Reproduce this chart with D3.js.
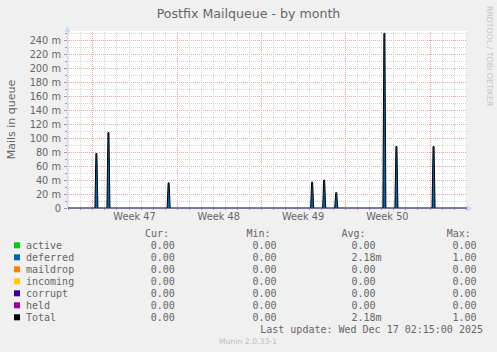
<!DOCTYPE html>
<html lang="en">
<head>
<meta charset="UTF-8">
<title>Postfix Mailqueue - by month</title>
<script src="https://d3js.org/d3.v7.min.js"></script>
<style>
  body { margin: 0; background: #f0f0f0; }
  svg { display: block; }
  text { font-family: "DejaVu Sans", sans-serif; fill: #666; }
  .mono { font-family: "DejaVu Sans Mono", monospace; font-size: 10px; }
</style>
</head>
<body>
<svg width="497" height="352"></svg>
<script>
// time window of the graph
const startTime = new Date("2025-11-14T21:24:00Z");
const endTime = new Date("2025-12-18T02:40:00Z");

// spikes of the deferred queue (mails, 2h averages)
const spikeTimes = ["2025-11-17T08:00Z", "2025-11-18T08:00Z", "2025-11-23T08:00Z",
  "2025-12-05T06:00Z", "2025-12-06T06:00Z", "2025-12-07T06:00Z",
  "2025-12-11T06:00Z", "2025-12-12T06:00Z", "2025-12-15T08:00Z"];
const deferredValues = [0.078, 0.108, 0.036, 0.037, 0.040, 0.022, 0.25, 0.088, 0.088];

// legend
const seriesNames = ["active", "deferred", "maildrop", "incoming", "corrupt", "held", "Total"];
const seriesColors = ["#00cc00", "#0066b3", "#ff8000", "#ffcc00", "#330099", "#990099", "#000000"];
const curValues = ["0.00", "0.00", "0.00", "0.00", "0.00", "0.00", "0.00"];
const minValues = ["0.00", "0.00", "0.00", "0.00", "0.00", "0.00", "0.00"];
const avgValues = ["0.00", "2.18m", "0.00", "0.00", "0.00", "0.00", "2.18m"];
const maxValues = ["0.00", "1.00", "0.00", "0.00", "0.00", "0.00", "1.00"];

const svg = d3.select("svg");
const X0 = 67, X1 = 467, Y0 = 208, Y1 = 33.3;

const x = d3.scaleUtc().domain([startTime, endTime]).range([X0, X1]);
const y = d3.scaleLinear().domain([0, 0.25]).range([Y0, Y1]);

svg.append("rect").attr("width", 497).attr("height", 352).attr("fill", "#f0f0f0");
svg.append("rect").attr("x", X0).attr("y", 31).attr("width", X1 - X0).attr("height", Y0 - 31).attr("fill", "#fff");

// title
svg.append("text").attr("x", 248.5).attr("y", 18).attr("text-anchor", "middle")
  .style("font-size", "12.6px").text("Postfix Mailqueue - by month");

// watermark
svg.append("text").attr("transform", "translate(486.5,6) rotate(90)")
  .style("font-size", "7.8px").style("fill", "#c4c4c4").text("RRDTOOL / TOBI OETIKER");

// y label
svg.append("text").attr("transform", "translate(15,119.5) rotate(-90)")
  .attr("text-anchor", "middle").style("font-size", "11px").text("Mails in queue");

const grid = svg.append("g").attr("shape-rendering", "crispEdges");

// horizontal grid
const minorY = d3.range(0, 26).map(d => d / 100);
grid.selectAll(".hmin").data(minorY.filter(d => d > 0)).join("line")
  .attr("x1", X0).attr("x2", X1)
  .attr("y1", d => Math.round(y(d)) + 0.5).attr("y2", d => Math.round(y(d)) + 0.5)
  .attr("stroke", "#d4d4d4").attr("stroke-dasharray", "1,1");
const majorY = d3.range(0, 13).map(d => d * 0.02);
grid.selectAll(".hmaj").data(majorY.filter(d => d > 0)).join("line")
  .attr("x1", X0).attr("x2", X1)
  .attr("y1", d => Math.round(y(d)) + 0.5).attr("y2", d => Math.round(y(d)) + 0.5)
  .attr("stroke", "#eba5a5").attr("stroke-dasharray", "1,1");

// vertical grid
const days = d3.utcDay.range(startTime, endTime);
grid.selectAll(".vmin").data(days).join("line")
  .attr("x1", d => Math.round(x(d)) + 0.5).attr("x2", d => Math.round(x(d)) + 0.5)
  .attr("y1", Y1 - 1).attr("y2", Y0)
  .attr("stroke", "#d4d4d4").attr("stroke-dasharray", "1,1");
const weeks = d3.utcMonday.range(startTime, endTime);
grid.selectAll(".vmaj").data(weeks).join("line")
  .attr("x1", d => Math.round(x(d)) + 0.5).attr("x2", d => Math.round(x(d)) + 0.5)
  .attr("y1", Y1 - 1).attr("y2", Y0)
  .attr("stroke", "#eba5a5").attr("stroke-dasharray", "1,1");

// small ticks on axes
grid.selectAll(".ytick").data(minorY).join("line")
  .attr("x1", d => (Math.round(d * 100) % 2 === 0) ? X0 - 3 : X0 - 2).attr("x2", X0)
  .attr("y1", d => Math.round(y(d)) + 0.5).attr("y2", d => Math.round(y(d)) + 0.5)
  .attr("stroke", "#9a9a9a");
grid.selectAll(".xtick").data(days).join("line")
  .attr("x1", d => Math.round(x(d)) + 0.5).attr("x2", d => Math.round(x(d)) + 0.5)
  .attr("y1", Y0).attr("y2", Y0 + 2)
  .attr("stroke", "#9a9a9a");

// y tick labels
svg.selectAll(".ylab").data(majorY).join("text")
  .attr("x", 61).attr("y", d => y(d) + 3.6).attr("text-anchor", "end")
  .style("font-size", "9.8px")
  .text(d => d === 0 ? "0" : d3.format(".0f")(d * 1000) + " m");

// week labels
const weekLabels = weeks.filter(d => d3.utcHour.offset(d, 84) < endTime);
svg.selectAll(".wlab").data(weekLabels).join("text")
  .attr("x", d => x(d3.utcHour.offset(d, 84))).attr("y", 220)
  .attr("text-anchor", "middle").style("font-size", "9.8px")
  .text(d => "Week " + d3.utcFormat("%V")(d));

// deferred series with Total line
const pts = [{ t: startTime, v: 0 }];
spikeTimes.forEach((s, i) => {
  const t = new Date(s);
  pts.push({ t: d3.utcHour.offset(t, -3), v: 0 });
  pts.push({ t: d3.utcHour.offset(t, -1), v: deferredValues[i] });
  pts.push({ t: d3.utcHour.offset(t, 1), v: deferredValues[i] });
  pts.push({ t: d3.utcHour.offset(t, 3), v: 0 });
});
pts.push({ t: endTime, v: 0 });

svg.append("path").datum(pts)
  .attr("fill", "#0066b3")
  .attr("d", d3.area().x(d => x(d.t)).y0(Y0).y1(d => y(d.v)));
svg.append("path").datum(pts)
  .attr("fill", "none").attr("stroke", "#000").attr("stroke-width", 1)
  .attr("d", d3.line().x(d => x(d.t)).y(d => y(d.v)));

// axes with arrows
svg.append("line").attr("x1", X0 + 0.5).attr("x2", X0 + 0.5).attr("y1", Y0).attr("y2", 28)
  .attr("stroke", "#cfd6f8");
svg.append("path").attr("d", `M${X0 - 2.5},32 L${X0 + 0.5},26 L${X0 + 3.5},32 Z`).attr("fill", "#cfd6f8");
svg.append("line").attr("x1", X0).attr("x2", 470).attr("y1", Y0 + 0.5).attr("y2", Y0 + 0.5)
  .attr("stroke", "#cfd6f8");
svg.append("path").attr("d", `M467,${Y0 - 2.5} L473,${Y0 + 0.5} L467,${Y0 + 3.5} Z`).attr("fill", "#cfd6f8");
svg.append("line").attr("x1", X0 + 1).attr("x2", X1).attr("y1", Y0 + 0.5).attr("y2", Y0 + 0.5)
  .attr("stroke", "#7f739d");

// legend
const leg = svg.append("g");
const headers = [["Cur:", 145], ["Min:", 246.5], ["Avg:", 341.5], ["Max:", 446.7]];
leg.selectAll(".hdr").data(headers).join("text").attr("class", "mono")
  .attr("x", d => d[0] === "Cur:" ? d[1] : d[1]).attr("y", 237).text(d => d[0]);

const rows = leg.selectAll(".row").data(seriesNames).join("g")
  .attr("transform", (d, i) => `translate(0,${249.3 + i * 12})`);
rows.append("rect").attr("x", 14).attr("y", -7).attr("width", 6).attr("height", 6)
  .attr("fill", (d, i) => seriesColors[i]);
rows.append("text").attr("class", "mono").attr("x", 26).text(d => d);
rows.append("text").attr("class", "mono").attr("x", 150.8).text((d, i) => curValues[i]);
rows.append("text").attr("class", "mono").attr("x", 252.5).text((d, i) => minValues[i]);
rows.append("text").attr("class", "mono").attr("x", 351.5).text((d, i) => avgValues[i]);
rows.append("text").attr("class", "mono").attr("x", 452.5).text((d, i) => maxValues[i]);

leg.append("text").attr("class", "mono").attr("x", 483).attr("y", 333)
  .attr("text-anchor", "end").text("Last update: Wed Dec 17 02:15:00 2025");

svg.append("text").attr("x", 248).attr("y", 344).attr("text-anchor", "middle")
  .style("font-size", "7.7px").style("fill", "#bdbdbd").text("Munin 2.0.33-1");
</script>
</body>
</html>
